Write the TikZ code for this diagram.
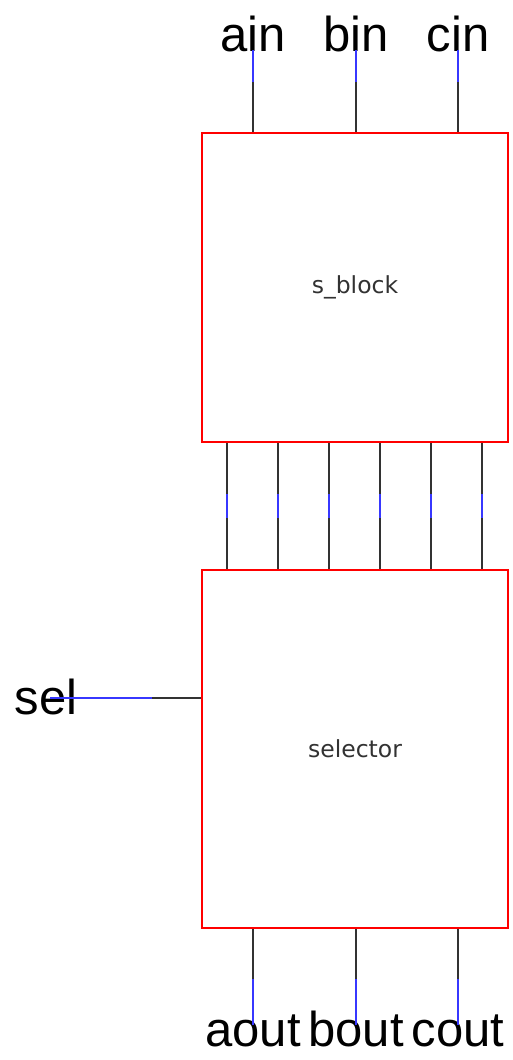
\documentclass[tikz,border=0pt]{standalone}
\usepackage{fontspec}
\usepackage{tikz}
\newfontfamily\pinfont{Liberation Sans}
\newfontfamily\blkfont{DejaVu Sans}
\definecolor{wireblue}{RGB}{55,55,255}
\definecolor{wiregray}{RGB}{50,50,50}

\begin{document}
\begin{tikzpicture}[x=1pt,y=-1pt,
	blk/.style={draw=red, line width=2pt, inner sep=0pt, minimum width=306pt,
		text=wiregray, font=\blkfont\fontsize{23.5}{23.5}\selectfont},
	pin/.style={font=\pinfont\fontsize{49}{49}\selectfont, inner sep=0pt, anchor=base},
	wire/.style={wiregray, line width=2pt},
	seg/.style={wireblue, line width=2pt}]

	\useasboundingbox (0,0) rectangle (513,1060);

	% the two blocks
	\node[blk, minimum height=309pt] (sblock)   at (355,287.5) {s\_block};
	\node[blk, minimum height=358pt] (selector) at (355,749)   {selector};

	% inputs on top
	\foreach \n/\x in {ain/253,bin/356,cin/458}{
		\node[pin] (\n) at (\x,51) {\n};
		\coordinate (\n end) at (\x,50);
		\draw[wire] (\n end) -- (\n end |- sblock.north);
		\draw[seg] (\n end) -- ++(0,32);
	}

	% wires between the blocks
	\foreach \i in {1,...,6}{
		\draw[wire] ([xshift={(2*\i-1)*25.5pt}]sblock.south west) -- ([xshift={(2*\i-1)*25.5pt}]selector.north west);
		\draw[seg] ([xshift={(2*\i-1)*25.5pt}]sblock.south west) ++(0,51) -- ++(0,24);
	}

	% select input
	\node[pin] (sel) at (46,714) {sel};
	\coordinate (selend) at (50,698);
	\draw[wire] (selend) -- (selend -| selector.west);
	\draw[seg] (selend) -- ++(102,0);

	% outputs below
	\foreach \n/\x in {aout/253,bout/356,cout/458}{
		\node[pin] (\n) at (\x,1046) {\n};
		\coordinate (\n end) at (\x,1025);
		\draw[wire] (selector.south -| \n end) -- (\n end);
		\draw[seg] (\n end) -- ++(0,-46);
	}
\end{tikzpicture}
\end{document}
